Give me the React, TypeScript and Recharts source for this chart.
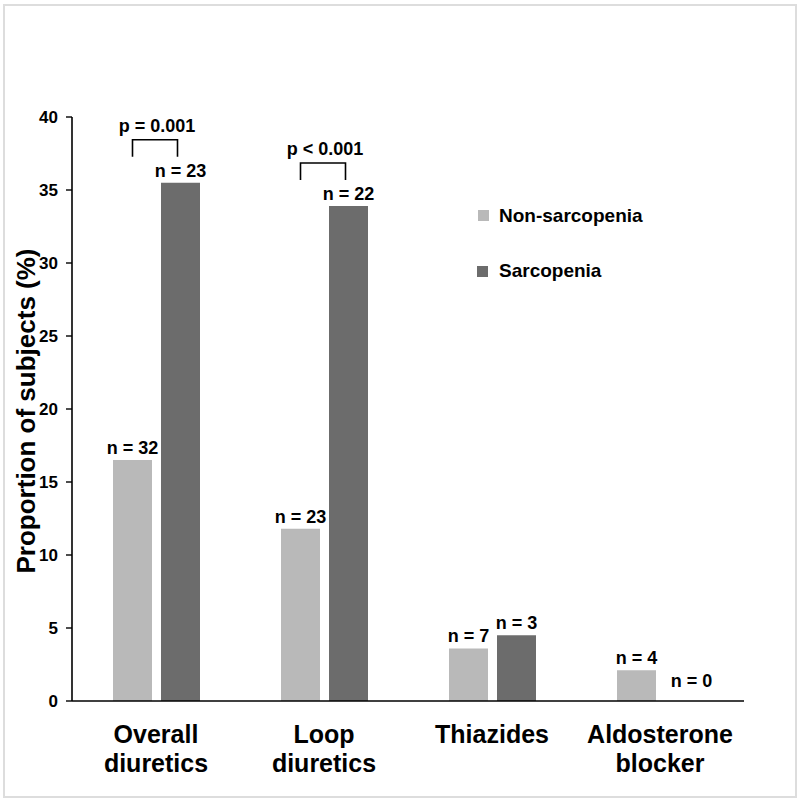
import React from 'react';
import { BarChart, Bar, XAxis, YAxis, LabelList, Label } from 'recharts';

const categories = ['Overall\ndiuretics', 'Loop\ndiuretics', 'Thiazides', 'Aldosterone\nblocker'];
const nonSarcopenia = [16.5, 11.8, 3.6, 2.1];
const sarcopenia = [35.5, 33.9, 4.5, 0];
const nonSarcopeniaN = [32, 23, 7, 4];
const sarcopeniaN = [23, 22, 3, 0];
const pValues = ['p = 0.001', 'p < 0.001', '', ''];
const yTicks = [0, 5, 10, 15, 20, 25, 30, 35, 40];
const seriesNames = ['Non-sarcopenia', 'Sarcopenia'];

const LIGHT = '#b9b9b9';
const DARK = '#6c6c6c';
const FONT = '"Liberation Sans", Arial, Helvetica, sans-serif';
const GAP = 9;

const data = categories.map((c, i) => ({
  category: c,
  non: nonSarcopenia[i],
  sarc: sarcopenia[i],
  nonN: nonSarcopeniaN[i],
  sarcN: sarcopeniaN[i],
  p: pValues[i],
}));

function SText({ x, y, size, anchor = 'middle', rotate, children }: any) {
  return (
    <text
      transform={`translate(${x},${y})${rotate ? ` rotate(${rotate})` : ''}`}
      textAnchor={anchor}
      fontFamily={FONT}
      fontWeight="bold"
      fontSize={size}
      fill="#000"
    >
      {children}
    </text>
  );
}

const NonLabel = (props: any) => {
  const x = Number(props.x), y = Number(props.y), w = Number(props.width), h = Number(props.height);
  const idx = props.index;
  const els: any[] = [
    <SText key="n" x={x + w / 2} y={y - 6} size={18}>{`n = ${props.value}`}</SText>,
  ];
  // the zero-height sarcopenia bar gets no label of its own; place its label next to this bar
  if (sarcopenia[idx] === 0) {
    els.push(
      <SText key="z" x={x + w + GAP + w / 2 + 7} y={y + h - 14} size={18}>{`n = ${sarcopeniaN[idx]}`}</SText>
    );
  }
  return <g>{els}</g>;
};

const SarcLabel = (props: any) => {
  const x = Number(props.x), y = Number(props.y), w = Number(props.width);
  const idx = props.index;
  const p = pValues[idx];
  const els: any[] = [];
  if (props.value !== 0) {
    els.push(<SText key="n" x={x + w / 2} y={y - 6} size={18}>{`n = ${props.value}`}</SText>);
  }
  if (p) {
    const left = x - GAP - w / 2;
    const right = x + w / 2 - 3;
    const top = y - 43;
    const bottom = y - 26;
    els.push(
      <path key="b" d={`M${left},${bottom} L${left},${top} L${right},${top} L${right},${bottom}`} fill="none" stroke="#000" strokeWidth={1.6} />
    );
    els.push(<SText key="p" x={(left + right) / 2 + 2} y={y - 51} size={18}>{p}</SText>);
  }
  return <g>{els}</g>;
};

const XTick = (props: any) => {
  const { x, y, payload } = props;
  const lines = String(payload.value).split('\n');
  return (
    <g>
      {lines.map((l, i) => (
        <SText key={i} x={x} y={y + 34 + i * 29} size={25}>{l}</SText>
      ))}
    </g>
  );
};

const YTick = (props: any) => {
  const { x, y, payload } = props;
  return <SText x={x - 6} y={y + 6} size={17} anchor="end">{payload.value}</SText>;
};

const YLabel = () => (
  <SText x={35} y={411} size={26} rotate={-90}>Proportion of subjects (%)</SText>
);

export default function App() {
  return (
    <div style={{ position: 'absolute', left: 0, top: 0, width: 800, height: 800, background: '#fff' }}>
      <div style={{ position: 'absolute', left: 3, top: 4, width: 790, height: 790, border: '2px solid #dddddd' }} />
      <div style={{ position: 'absolute', left: 0, top: 0 }}>
        <BarChart
          width={800}
          height={800}
          data={data}
          margin={{ top: 117, right: 56, bottom: 19, left: 12 }}
          barSize={39}
          barGap={GAP}
        >
          <XAxis
            dataKey="category"
            height={80}
            tickLine={false}
            axisLine={{ stroke: '#000', strokeWidth: 1.6 }}
            tick={<XTick />}
            interval={0}
          />
          <YAxis
            width={60}
            domain={[0, 40]}
            ticks={yTicks}
            tickSize={6}
            tickLine={{ stroke: '#000', strokeWidth: 1.4 }}
            axisLine={{ stroke: '#000', strokeWidth: 1.6 }}
            tick={<YTick />}
            interval={0}
          >
            <Label content={<YLabel />} />
          </YAxis>
          <Bar dataKey="non" name={seriesNames[0]} fill={LIGHT} isAnimationActive={false}>
            <LabelList dataKey="nonN" content={<NonLabel />} />
          </Bar>
          <Bar dataKey="sarc" name={seriesNames[1]} fill={DARK} isAnimationActive={false}>
            <LabelList dataKey="sarcN" content={<SarcLabel />} />
          </Bar>
        </BarChart>
      </div>
      <svg style={{ position: 'absolute', left: 470, top: 200, overflow: 'visible' }} width={220} height={90}>
        <rect x={8} y={10} width={11} height={11} fill={LIGHT} />
        <SText x={29} y={22} size={19} anchor="start">{seriesNames[0]}</SText>
        <rect x={7} y={66} width={11} height={11} fill={DARK} />
        <SText x={29} y={77} size={19} anchor="start">{seriesNames[1]}</SText>
      </svg>
    </div>
  );
}
